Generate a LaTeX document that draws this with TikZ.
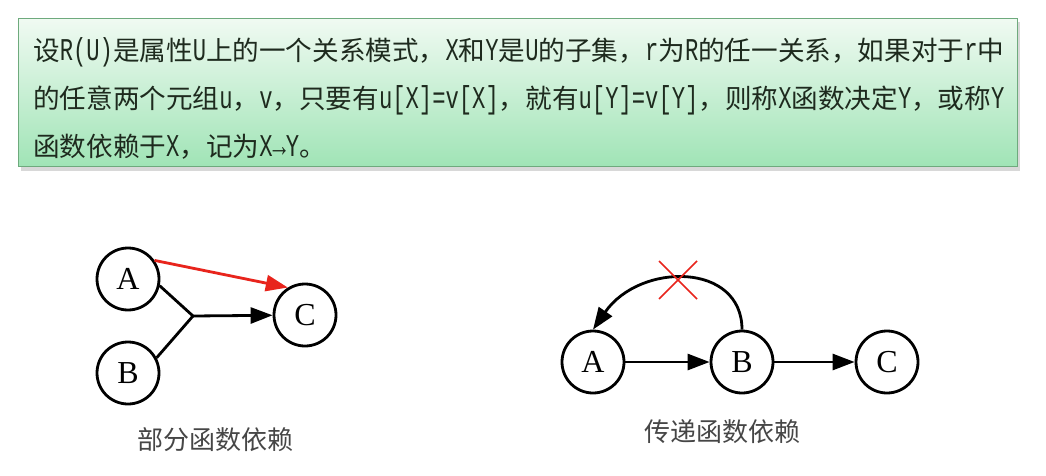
\documentclass[tikz,border=0pt]{standalone}
\usepackage{fontspec}
\setmainfont{Noto Sans CJK SC}
\newfontfamily\latm[FakeStretch=0.7]{Liberation Mono}
\newfontfamily\abcfont{Liberation Serif}
\usetikzlibrary{arrows.meta,shadows}
\definecolor{boxtop}{RGB}{240,250,242}
\definecolor{boxbot}{RGB}{160,228,182}
\definecolor{boxborder}{RGB}{110,170,125}
\definecolor{textcol}{RGB}{30,42,30}
\definecolor{capgray}{RGB}{70,70,70}
\definecolor{redc}{RGB}{232,36,28}
\newcommand\lt[1]{{\latm\fontsize{31.7}{36}\selectfont #1}}
\begin{document}
\begin{tikzpicture}[x=1pt,y=-1pt,
  circ/.style={circle,draw,line width=2.8pt,minimum size=62pt,inner sep=0pt,font=\abcfont\fontsize{32}{32}\selectfont},
  arr/.style={line width=2.8pt,-{Triangle[length=22pt,width=16pt]}},
  ln/.style={line width=2.8pt},
  txt/.style={anchor=base west,inner sep=0pt,text=textcol,font=\fontsize{26.6}{30}\selectfont},
  capt/.style={text=capgray,inner sep=0pt,font=\fontsize{26}{30}\selectfont}]
\useasboundingbox (0,0) rectangle (1046,476);
\fill[white] (0,0) rectangle (1046,476);
% definition box
\node[draw=boxborder,line width=1pt,top color=boxtop,bottom color=boxbot,
  minimum width=999pt,minimum height=148pt,anchor=north west,inner sep=0pt,
  drop shadow={shadow xshift=2pt,shadow yshift=-4pt,opacity=0.3,fill=black!50}] (box) at (18,18) {};
\node[txt] (l1) at (33,61) {设\lt{R(U)}是属性\lt{U}上的一个关系模式，\lt{X}和\lt{Y}是\lt{U}的子集，\lt{r}为\lt{R}的任一关系，如果对于\lt{r}中};
\node[txt] (l2) at (33,109) {的任意两个元组\lt{u}，\lt{v}，只要有\lt{u[X]=v[X]}，就有\lt{u[Y]=v[Y]}，则称\lt{X}函数决定\lt{Y}，或称\lt{Y}};
\node[txt] (l3) at (33,157) {函数依赖于\lt{X}，记为\lt{X→Y}。};
% partial dependency
\node[circ] (pA) at (128,279) {A};
\node[circ] (pB) at (128,373) {B};
\node[circ] (pC) at (305,315) {C};
\coordinate (pJ) at (193,316);
\draw[ln] (pA.-12) -- (pJ);
\draw[ln] (pB.28) -- (pJ);
\draw[arr] (pJ) -- (pC);
\draw[arr,draw=redc,fill=redc] (pA.35) -- (pC.122);
\node[capt] (cap1) at (215,440) {部分函数依赖};
% transitive dependency
\node[circ] (tA) at (593,362) {A};
\node[circ] (tB) at (742,362) {B};
\node[circ] (tC) at (887,362) {C};
\draw[arr] (tA) -- (tB);
\draw[arr] (tB) -- (tC);
\draw[arr] (tB.north) .. controls (742,262) and (640,262) .. (tA.north);
\coordinate (xc) at (678,280);
\draw[redc,line width=1.6pt] ([shift={(-19,-19)}]xc) -- ([shift={(19,19)}]xc);
\draw[redc,line width=1.6pt] ([shift={(19,-19)}]xc) -- ([shift={(-19,19)}]xc);
\node[capt] (cap2) at (722,432) {传递函数依赖};
\end{tikzpicture}
\end{document}
